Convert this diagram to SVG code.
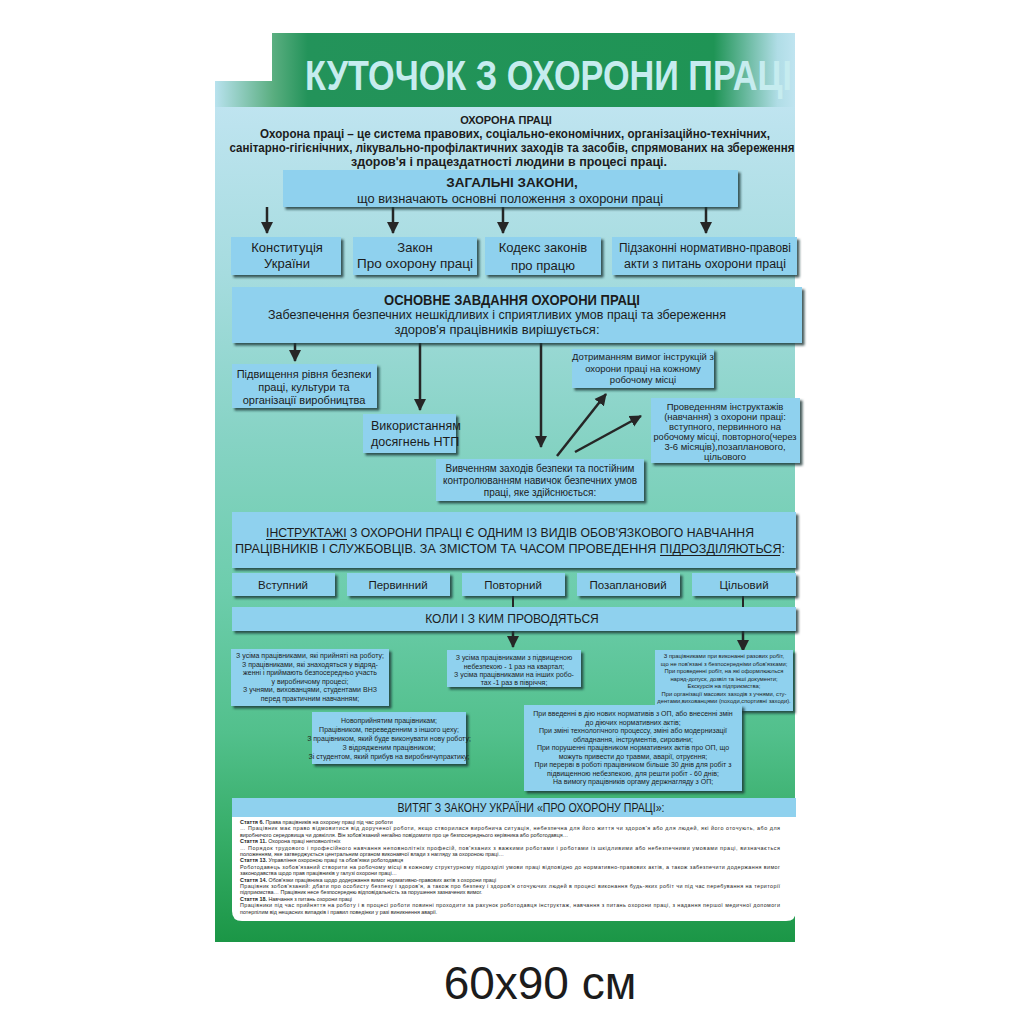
<svg xmlns="http://www.w3.org/2000/svg" width="1024" height="1024" viewBox="0 0 1024 1024">
<defs>
<linearGradient id="panelG" x1="0" y1="0" x2="0" y2="1">
<stop offset="0" stop-color="#bfe4f0"/>
<stop offset="0.2" stop-color="#a6dcdf"/>
<stop offset="0.4" stop-color="#86d3c4"/>
<stop offset="0.58" stop-color="#6dcdac"/>
<stop offset="0.75" stop-color="#52c08c"/>
<stop offset="0.88" stop-color="#35ac66"/>
<stop offset="1" stop-color="#1b9646"/>
</linearGradient>
<linearGradient id="titleG" gradientUnits="userSpaceOnUse" x1="215" y1="0" x2="795" y2="0">
<stop offset="0" stop-color="#b8e2ee"/>
<stop offset="0.1" stop-color="#5aae80"/>
<stop offset="0.16" stop-color="#23935a"/>
<stop offset="0.86" stop-color="#1f9455"/>
<stop offset="0.97" stop-color="#b0dde6"/>
<stop offset="1" stop-color="#bfe4f0"/>
</linearGradient>
<filter id="sh" x="-5%" y="-10%" width="115%" height="130%">
<feDropShadow dx="2.5" dy="2.5" stdDeviation="0.8" flood-color="#1b3535" flood-opacity="0.8"/>
</filter>
<marker id="ah" viewBox="0 0 12 12" markerUnits="userSpaceOnUse" markerWidth="12" markerHeight="13" refX="11" refY="6" orient="auto">
<path d="M0,0 L12,6 L0,12 z" fill="#262626"/>
</marker>
<style>
.box{fill:#8fd1ee;filter:url(#sh)}
.t{font-family:"Liberation Sans",Arial,sans-serif;fill:#1c1c1c}
.b{font-weight:bold}
.c{text-anchor:middle}
.ar{stroke:#262626;stroke-width:2.5;fill:none}
.ln{stroke:#262626;stroke-width:2;fill:none}
.ul{stroke:#1c1c1c;stroke-width:1}
.s7{font-size:7px}
.s6{font-size:5.8px}
.lw{font-size:5.4px}
</style>
</defs>
<rect width="1024" height="1024" fill="#ffffff"/>
<g id="panel">
<rect x="215" y="106" width="580" height="836" fill="url(#panelG)"/>
<path d="M272,33 H795 V107 H215 V81 H272 Z" fill="url(#titleG)"/>
<text class="t b" x="305" y="90" font-size="42" style="fill:#c6ecef" textLength="487" lengthAdjust="spacingAndGlyphs">КУТОЧОК З ОХОРОНИ ПРАЦІ</text>
</g>
<g id="intro">
<text class="t b c" x="506" y="124" font-size="11">ОХОРОНА ПРАЦІ</text>
<text class="t b c" x="515" y="138" font-size="12" textLength="510" lengthAdjust="spacingAndGlyphs">Охорона праці – це система правових, соціально-економічних, організаційно-технічних,</text>
<text class="t b c" x="512" y="152" font-size="12" textLength="565" lengthAdjust="spacingAndGlyphs">санітарно-гігієнічних, лікувально-профілактичних заходів та засобів, спрямованих на збереження</text>
<text class="t b c" x="509" y="166" font-size="12" textLength="316" lengthAdjust="spacingAndGlyphs">здоров'я і працездатності людини в процесі праці.</text>
</g>
<g id="connectors">
<line class="ar" x1="267" y1="207" x2="267" y2="233" marker-end="url(#ah)"/>
<line class="ar" x1="393" y1="207" x2="393" y2="233" marker-end="url(#ah)"/>
<line class="ar" x1="503" y1="207" x2="503" y2="233" marker-end="url(#ah)"/>
<line class="ar" x1="706" y1="207" x2="706" y2="233" marker-end="url(#ah)"/>
<line class="ar" x1="295" y1="343" x2="295" y2="361" marker-end="url(#ah)"/>
<line class="ar" x1="420" y1="343" x2="420" y2="410" marker-end="url(#ah)"/>
<line class="ar" x1="541" y1="343" x2="541" y2="447" marker-end="url(#ah)"/>
<line class="ar" x1="557" y1="456" x2="606" y2="394" marker-end="url(#ah)"/>
<line class="ar" x1="575" y1="452" x2="641" y2="416" marker-end="url(#ah)"/>
<line class="ln" x1="513" y1="596" x2="513" y2="607"/>
<line class="ln" x1="743" y1="596" x2="743" y2="607"/>
<line class="ar" x1="513" y1="631" x2="513" y2="647" marker-end="url(#ah)"/>
<line class="ar" x1="743" y1="631" x2="743" y2="651" marker-end="url(#ah)"/>
</g>
<g id="laws">
<rect class="box" x="283" y="170" width="455" height="37"/>
<text class="t b c" x="512" y="187" font-size="13.5">ЗАГАЛЬНІ ЗАКОНИ,</text>
<text class="t c" x="510" y="203" font-size="12.5" textLength="306" lengthAdjust="spacingAndGlyphs">що визначають основні положення з охорони праці</text>
</g>
<g id="law1">
<rect class="box" x="231" y="237" width="110" height="38"/>
<text class="t c" x="287" y="252" font-size="13">Конституція</text>
<text class="t c" x="287" y="268" font-size="13">України</text>
</g>
<g id="law2">
<rect class="box" x="353" y="237" width="124" height="38"/>
<text class="t c" x="415" y="252" font-size="13">Закон</text>
<text class="t c" x="415" y="268" font-size="13" textLength="116" lengthAdjust="spacingAndGlyphs">Про охорону праці</text>
</g>
<g id="law3">
<rect class="box" x="485" y="237" width="116" height="38"/>
<text class="t c" x="543" y="252" font-size="13">Кодекс законів</text>
<text class="t c" x="543" y="270" font-size="13">про працю</text>
</g>
<g id="law4">
<rect class="box" x="612" y="237" width="185" height="38"/>
<text class="t c" x="705" y="252" font-size="12" textLength="172" lengthAdjust="spacingAndGlyphs">Підзаконні нормативно-правові</text>
<text class="t c" x="705" y="268" font-size="12" textLength="162" lengthAdjust="spacingAndGlyphs">акти з питань охорони праці</text>
</g>
<g id="task">
<rect class="box" x="232" y="287" width="570" height="56"/>
<text class="t b c" x="512" y="305" font-size="14" textLength="256" lengthAdjust="spacingAndGlyphs">ОСНОВНЕ ЗАВДАННЯ ОХОРОНИ ПРАЦІ</text>
<text class="t c" x="497" y="319" font-size="12" textLength="458" lengthAdjust="spacingAndGlyphs">Забезпечення безпечних нешкідливих і сприятливих умов праці та збереження</text>
<text class="t c" x="497" y="334" font-size="12" textLength="205" lengthAdjust="spacingAndGlyphs">здоров'я працівників вирішується:</text>
</g>
<g id="raise">
<rect class="box" x="232" y="364" width="145" height="44"/>
<text class="t c" x="304" y="378" font-size="11">Підвищення рівня безпеки</text>
<text class="t c" x="304" y="391" font-size="11">праці, культури та</text>
<text class="t c" x="304" y="404" font-size="11">організації виробництва</text>
</g>
<g id="ntp">
<rect class="box" x="363" y="414" width="93" height="39"/>
<text class="t" x="371" y="430" font-size="12.5">Використанням</text>
<text class="t" x="371" y="446" font-size="12.5">досягнень НТП</text>
</g>
<g id="observe">
<rect class="box" x="572" y="349" width="142" height="39"/>
<text class="t c" x="643" y="360" font-size="9.5">Дотриманням вимог інструкцій з</text>
<text class="t c" x="643" y="371.5" font-size="9.5">охорони праці на кожному</text>
<text class="t c" x="643" y="383" font-size="9.5">робочому місці</text>
</g>
<g id="briefing">
<rect class="box" x="651" y="398" width="149" height="65"/>
<text class="t c" x="725" y="410" font-size="9.5">Проведенням інструктажів</text>
<text class="t c" x="725" y="420" font-size="9.5">(навчання) з охорони праці:</text>
<text class="t c" x="725" y="430" font-size="9.5">вступного, первинного на</text>
<text class="t c" x="725" y="440" font-size="9.5" textLength="143" lengthAdjust="spacingAndGlyphs">робочому місці, повторного(через</text>
<text class="t c" x="725" y="450" font-size="9.5">3-6 місяців),позапланового,</text>
<text class="t c" x="725" y="460" font-size="9.5">цільового</text>
</g>
<g id="study">
<rect class="box" x="436" y="459" width="208" height="42"/>
<text class="t c" x="540" y="472" font-size="10">Вивченням заходів безпеки та постійним</text>
<text class="t c" x="540" y="484" font-size="10">контролюванням навичок безпечних умов</text>
<text class="t c" x="540" y="496" font-size="10">праці, яке здійснюється:</text>
</g>
<g id="instr">
<rect class="box" x="232" y="512" width="564" height="56"/>
<text class="t c" x="510" y="537" font-size="13" textLength="488" lengthAdjust="spacingAndGlyphs">ІНСТРУКТАЖІ З ОХОРОНИ ПРАЦІ Є ОДНИМ ІЗ ВИДІВ ОБОВ'ЯЗКОВОГО НАВЧАННЯ</text>
<text class="t c" x="510" y="553" font-size="13" textLength="550" lengthAdjust="spacingAndGlyphs">ПРАЦІВНИКІВ І СЛУЖБОВЦІВ. ЗА ЗМІСТОМ ТА ЧАСОМ ПРОВЕДЕННЯ ПІДРОЗДІЛЯЮТЬСЯ:</text>
<line class="ul" x1="266" y1="539.5" x2="347" y2="539.5"/>
<line class="ul" x1="660" y1="555.5" x2="780" y2="555.5"/>
</g>
<g id="type1"><rect class="box" x="232" y="573" width="103" height="23"/><text class="t c" x="283" y="589" font-size="11.5">Вступний</text></g>
<g id="type2"><rect class="box" x="347" y="573" width="103" height="23"/><text class="t c" x="398" y="589" font-size="11.5">Первинний</text></g>
<g id="type3"><rect class="box" x="462" y="573" width="103" height="23"/><text class="t c" x="513" y="589" font-size="11.5">Повторний</text></g>
<g id="type4"><rect class="box" x="577" y="573" width="103" height="23"/><text class="t c" x="628" y="589" font-size="11.5">Позаплановий</text></g>
<g id="type5"><rect class="box" x="692" y="573" width="104" height="23"/><text class="t c" x="744" y="589" font-size="11.5">Цільовий</text></g>
<g id="when">
<rect class="box" x="232" y="607" width="564" height="24"/>
<text class="t c" x="512" y="623" font-size="12">КОЛИ І З КИМ ПРОВОДЯТЬСЯ</text>
</g>
<g id="introductory">
<rect class="box" x="231" y="649" width="158" height="57"/>
<text class="t c s7" x="310" y="658">З усіма працівниками, які прийняті на роботу;</text>
<text class="t c s7" x="310" y="666.5">З працівниками, які знаходяться у відряд-</text>
<text class="t c s7" x="310" y="675">женні  і  приймають безпосередньо участь</text>
<text class="t c s7" x="310" y="683.5">у виробничому процесі;</text>
<text class="t c s7" x="310" y="692">З учнями,  вихованцями,  студентами ВНЗ</text>
<text class="t c s7" x="310" y="700.5">перед практичним навчанням;</text>
</g>
<g id="repeated">
<rect class="box" x="447" y="650" width="134" height="37"/>
<text class="t c s7" x="514" y="660">З усіма працівниками  з  підвищеною</text>
<text class="t c s7" x="514" y="668.5">небезпекою - 1 раз на квартал;</text>
<text class="t c s7" x="514" y="677">З усіма працівниками на інших робо-</text>
<text class="t c s7" x="514" y="685">тах -1 раз в півріччя;</text>
</g>
<g id="targeted">
<rect class="box" x="655" y="650" width="138" height="61"/>
<text class="t c s6" x="724" y="658">З працівниками при виконанні разових  робіт,</text>
<text class="t c s6" x="724" y="665.5">що не пов'язані з безпосередніми обов'язками;</text>
<text class="t c s6" x="724" y="673">При  проведенні  робіт,  на  які оформлюються</text>
<text class="t c s6" x="724" y="680.5">наряд-допуск, дозвіл та інші документи;</text>
<text class="t c s6" x="724" y="688">Екскурсія на підприємства;</text>
<text class="t c s6" x="724" y="695.5">При організації масових заходів з учнями, сту-</text>
<text class="t c s6" x="724" y="703">дентами,вихованцями (походи,спортивні заходи).</text>
</g>
<g id="primary">
<rect class="box" x="312" y="712" width="154" height="52"/>
<text class="t c s7" x="389" y="723">Новоприйнятим працівникам;</text>
<text class="t c s7" x="389" y="732">Працівником, переведенним з іншого цеху;</text>
<text class="t c s7" x="389" y="741">З працівником, який буде виконувати нову роботу;</text>
<text class="t c s7" x="389" y="750">З відрядженим працівником;</text>
<text class="t c s7" x="389" y="759">Зі  студентом,  який  прибув  на  виробничупрактику;</text>
</g>
<g id="unscheduled">
<rect class="box" x="524" y="705" width="218" height="86"/>
<text class="t c s7" x="633" y="716">При введенні в дію нових нормативів з ОП, або внесенні змін</text>
<text class="t c s7" x="633" y="724.5">до діючих нормативних актів;</text>
<text class="t c s7" x="633" y="733">При  зміні  технологічного  процессу,  зміні  або  модернизації</text>
<text class="t c s7" x="633" y="741.5">обладнання, інструментів, сировини;</text>
<text class="t c s7" x="633" y="750">При порушенні працівником нормативних актів про ОП, що</text>
<text class="t c s7" x="633" y="758.5">можуть привести до травми, аварії, отруєння;</text>
<text class="t c s7" x="633" y="767">При перерві в роботі працівником більше 30 днів для робіт з</text>
<text class="t c s7" x="633" y="775.5">підвищенною небезпекою, для решти робіт - 60 днів;</text>
<text class="t c s7" x="633" y="784">На вимогу працівників оргаму держнагляду з ОП;</text>
</g>
<g id="extract">
<path d="M232,817 H796 V911 Q796,921 786,921 H242 Q232,921 232,911 Z" fill="#ffffff"/>
<rect x="232" y="798" width="564" height="19" fill="#8fd1ee"/>
<text class="t c" x="531" y="812" font-size="12.5" textLength="267" lengthAdjust="spacingAndGlyphs">ВИТЯГ З ЗАКОНУ УКРАЇНИ «ПРО ОХОРОНУ ПРАЦІ»:</text>
<text class="t lw" x="240" y="824"><tspan font-weight="bold">Стаття 6.</tspan> Права працівників на охорону праці під час роботи</text>
<text class="t lw" x="240" y="830.4" textLength="540" lengthAdjust="spacing">… Працівник має право відмовитися від дорученої роботи,  якщо створилася виробнича ситуація,  небезпечна для його життя чи здоров'я або  для  людей, які його оточують,  або для</text>
<text class="t lw" x="240" y="836.8">виробничого середовища чи довкілля.  Він зобов'язаний негайно повідомити про це безпосереднього керівника або роботодавця…</text>
<text class="t lw" x="240" y="843.2"><tspan font-weight="bold">Стаття 11.</tspan> Охорона праці неповнолітніх</text>
<text class="t lw" x="240" y="849.6" textLength="540" lengthAdjust="spacing">… Порядок трудового і професійного навчання неповнолітніх професій, пов'язаних з важкими роботами і роботами  із  шкідливими  або  небезпечними умовами праці, визначається</text>
<text class="t lw" x="240" y="856">положенням, яке затверджується центральним органом виконавчої влади з нагляду за охороною праці…</text>
<text class="t lw" x="240" y="862.4"><tspan font-weight="bold">Стаття 13.</tspan> Управління охороною праці та обов'язки роботодавця</text>
<text class="t lw" x="240" y="868.8" textLength="540" lengthAdjust="spacing">Роботодавець зобов'язаний створити на робочому місці в кожному структурному підрозділі умови праці відповідно до нормативно-правових  актів, а також забезпечити додержання вимог</text>
<text class="t lw" x="240" y="875.2">законодавства щодо прав працівників у галузі охорони праці…</text>
<text class="t lw" x="240" y="881.6"><tspan font-weight="bold">Стаття 14.</tspan> Обов'язки працівника щодо додержання вимог нормативно-правових актів з охорони праці</text>
<text class="t lw" x="240" y="888" textLength="540" lengthAdjust="spacing">Працівник  зобов'язаний:  дбати  про  особисту безпеку і здоров'я,  а також про безпеку і здоров'я оточуючих людей в процесі виконання  будь-яких робіт чи  під час перебування на території</text>
<text class="t lw" x="240" y="894.4">підприємства… Працівник несе безпосередню відповідальність за порушення зазначених вимог.</text>
<text class="t lw" x="240" y="900.8"><tspan font-weight="bold">Стаття 18.</tspan> Навчання з питань охорони праці</text>
<text class="t lw" x="240" y="907.2" textLength="540" lengthAdjust="spacing">Працівники  під  час  прийняття  на  роботу і в процесі роботи повинні проходити за рахунок роботодавця інструктаж,  навчання з питань охорони праці, з надання першої медичної допомоги</text>
<text class="t lw" x="240" y="913.6">потерпілим від нещасних випадків і правил поведінки у разі виникнення аварії.</text>
</g>
<g id="size">
<text class="t c" x="540" y="999" font-size="46" fill="#222">60x90 см</text>
</g>
</svg>
